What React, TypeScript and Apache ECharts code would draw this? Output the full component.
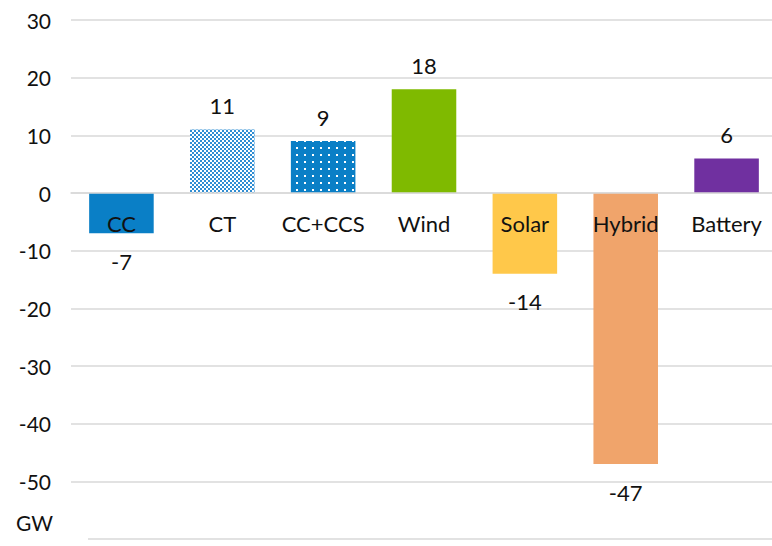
import React, { useEffect, useRef } from "react";
import * as echarts from "echarts";

const categories = ["CC", "CT", "CC+CCS", "Wind", "Solar", "Hybrid", "Battery"];
const values = [-7, 11, 9, 18, -14, -47, 6];
const colors = ["#0A7FC6", "#2F8DD3", "#0A7FC6", "#7FBA00", "#FFC84A", "#F0A46B", "#7030A0"];
const yMin = -60;
const yMax = 30;
const yStep = 10;
const unitLabel = "GW";

const decals: any[] = [
  null,
  {
    symbol: "rect",
    symbolSize: 1,
    color: "#ffffff",
    dashArrayX: [[2, 2], [0, 2, 2, 0]],
    dashArrayY: [2, 0],
    rotation: 0,
  },
  {
    symbol: "rect",
    symbolSize: 1,
    color: "#ffffff",
    dashArrayX: [2, 6],
    dashArrayY: [2, 5],
    rotation: 0,
  },
  null,
  null,
  null,
  null,
];

const GRID_TOP = 20;
const GRID_BOTTOM = 7;
const HEIGHT = 546;

export default function App() {
  const ref = useRef<HTMLDivElement>(null);
  useEffect(() => {
    if (!ref.current) return;
    const chart = echarts.init(ref.current, null, { renderer: "svg" });
    const font = "Lato, 'Open Sans', sans-serif";
    const gridH = HEIGHT - GRID_TOP - GRID_BOTTOM;
    const zeroOffset = -((0 - yMin) / (yMax - yMin)) * gridH;
    const data = values.map((v, i) => {
      const item: any = {
        value: v,
        itemStyle: { color: colors[i] },
        label: { position: v >= 0 ? "top" : "bottom", distance: v >= 0 ? 13 : 17 },
      };
      if (decals[i]) item.itemStyle.decal = decals[i];
      return item;
    });
    chart.setOption({
      animation: false,
      aria: { enabled: false, decal: { show: true } },
      grid: { left: 71, right: -5, top: GRID_TOP, bottom: GRID_BOTTOM, containLabel: false, outerBoundsMode: "none" },
      xAxis: {
        type: "category",
        data: categories,
        z: 10,
        position: "bottom",
        offset: zeroOffset,
        axisLine: { show: true, onZero: false, lineStyle: { color: "#d9d9d9", width: 1.5 } },
        axisTick: { show: false },
        axisLabel: {
          interval: 0,
          hideOverlap: false,
          fontFamily: font,
          fontSize: 22,
          color: "#111",
          margin: 19,
        },
      },
      yAxis: {
        type: "value",
        min: yMin,
        max: yMax,
        interval: yStep,
        axisLine: { show: false },
        axisTick: { show: false },
        splitLine: { lineStyle: { color: "#d9d9d9", width: 1.5 } },
        axisLabel: {
          fontFamily: font,
          fontSize: 21,
          color: "#111",
          margin: 20,
          formatter: (v: number) => (v === yMin ? "" : String(v)),
        },
      },
      graphic: [
        {
          type: "rect",
          shape: { x: 69, y: 536, width: 19, height: 6 },
          style: { fill: "#ffffff" },
          z: 100,
        },
        {
          type: "text",
          x: 16,
          y: 512,
          style: { text: unitLabel, font: `21px ${font}`, fill: "#111" },
          z: 100,
        },
      ],
      series: [
        {
          type: "bar",
          data,
          barCategoryGap: "36%",
          label: {
            show: true,
            fontFamily: font,
            fontSize: 22,
            color: "#111",
          },
        },
      ],
    });
    return () => chart.dispose();
  }, []);
  return <div ref={ref} style={{ width: 772, height: 546, position: "absolute", left: 0, top: 0 }} />;
}
